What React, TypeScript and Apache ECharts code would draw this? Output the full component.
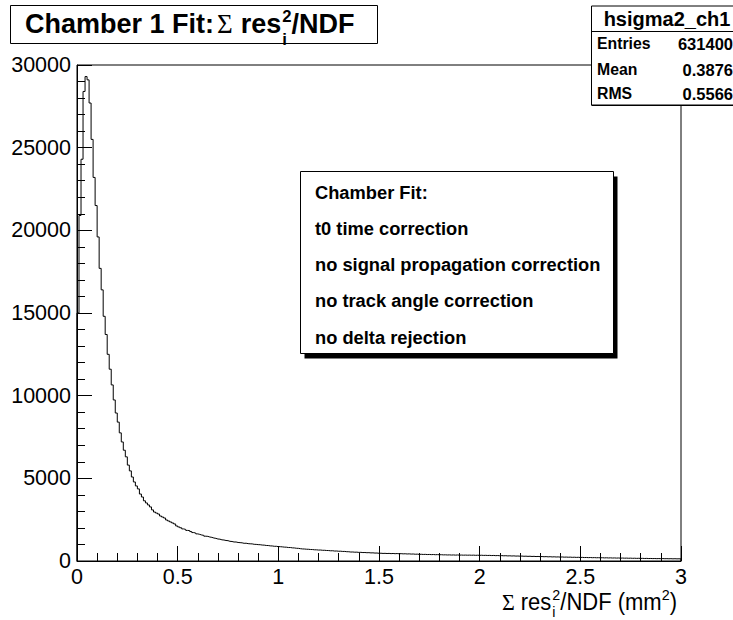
import React, { useEffect, useRef } from "react";
import * as echarts from "echarts";

// ---------- data ----------
const binWidth = 0.01; // 300 bins between 0 and 3
const xMin = 0;
const xMax = 3;
const yMax = 30000;

// bins 0..49
const peakCounts = [
  15000, 20900, 24300, 28400, 29300, 29100, 27700, 25500, 23200, 21500,
  19600, 17700, 16400, 14800, 13700, 12500, 11600, 10650, 9740, 8950,
  8400, 7750, 7200, 6700, 6300, 5800, 5450, 5080, 4780, 4540,
  4360, 4050, 3870, 3640, 3510, 3390, 3270, 3090, 2960, 2900,
  2840, 2720, 2660, 2600, 2480, 2420, 2360, 2300, 2240, 2120,
];
// bins 50..149
const midCounts = [
  2060, 2010, 1940, 1910, 1850, 1840, 1780, 1720, 1690, 1640,
  1610, 1570, 1550, 1500, 1490, 1450, 1430, 1390, 1370, 1330,
  1320, 1280, 1270, 1240, 1230, 1190, 1180, 1150, 1150, 1120,
  1110, 1100, 1070, 1075, 1050, 1040, 1035, 1010, 1005, 990,
  985, 965, 960, 940, 935, 915, 910, 890, 890, 870,
  865, 855, 840, 835, 815, 815, 795, 790, 770, 765,
  745, 730, 725, 712, 708, 695, 692, 678, 675, 662,
  664, 648, 648, 636, 632, 618, 620, 602, 604, 590,
  592, 578, 580, 562, 560, 542, 545, 532, 535, 520,
  524, 510, 514, 500, 505, 490, 494, 480, 482, 466,
];
// bins 150..299
const tailCounts = [
  470, 458, 464, 452, 460, 446, 455, 442, 450, 436,
  445, 432, 438, 425, 432, 418, 424, 410, 414, 400,
  406, 396, 402, 390, 396, 386, 392, 380, 386, 376,
  380, 370, 374, 364, 370, 360, 366, 356, 364, 354,
  360, 352, 358, 350, 356, 348, 354, 344, 350, 342,
  348, 338, 344, 334, 340, 328, 336, 324, 330, 318,
  326, 314, 320, 308, 314, 302, 310, 296, 302, 292,
  298, 286, 292, 280, 288, 274, 282, 268, 276, 264,
  270, 258, 266, 252, 260, 246, 254, 242, 248, 236,
  244, 232, 238, 228, 234, 222, 228, 218, 224, 212,
  220, 208, 214, 204, 210, 200, 206, 196, 200, 192,
  198, 188, 194, 184, 190, 180, 186, 176, 182, 172,
  178, 170, 174, 166, 172, 162, 168, 158, 164, 156,
  160, 152, 158, 148, 154, 146, 150, 142, 148, 140,
  146, 138, 142, 136, 140, 132, 138, 130, 134, 128,
];

const histName = "hsigma2_ch1";
const statLabels = ["Entries", "Mean", "RMS"];
const statValues = ["631400", "0.3876", "0.5566"];
const noteLines = [
  "Chamber Fit:",
  "t0 time correction",
  "no signal propagation correction",
  "no track angle correction",
  "no delta rejection",
];

// ---------- helpers ----------
const SANS = "'Liberation Sans', Arial, Helvetica, sans-serif";
const SERIF = "'Liberation Serif', 'DejaVu Serif', serif";

let measureCtx: CanvasRenderingContext2D | null = null;
function textWidth(text: string, size: number, weight: string, family: string) {
  if (!measureCtx) measureCtx = document.createElement("canvas").getContext("2d");
  if (!measureCtx) return text.length * size * 0.55;
  measureCtx.font = `${weight} ${size}px ${family}`;
  return measureCtx.measureText(text).width;
}

type Piece = {
  text: string;
  size: number;
  weight: string;
  family: string;
  dy: number; // vertical centre offset
  advance: boolean; // false = stacked with next piece
  gap?: number;
};

function layoutPieces(pieces: Piece[], startX: number, cy: number, z: number, sy = 1) {
  const out: any[] = [];
  let x = startX;
  let pendingW = 0;
  for (const p of pieces) {
    x += p.gap || 0;
    const w = textWidth(p.text, p.size, p.weight, p.family);
    out.push({
      type: "text",
      z,
      x,
      y: cy + p.dy,
      scaleY: sy,
      style: {
        text: p.text,
        x: 0,
        y: 0,
        fontSize: p.size,
        fontWeight: p.weight,
        fontFamily: p.family,
        fill: "#000",
        align: "left",
        verticalAlign: "middle",
      },
    });
    if (p.advance) {
      x += Math.max(w, pendingW);
      pendingW = 0;
    } else {
      pendingW = Math.max(pendingW, w);
    }
  }
  return { elements: out, width: x - startX };
}

export default function App() {
  const ref = useRef<HTMLDivElement>(null);

  useEffect(() => {
    if (!ref.current) return;
    const chart = echarts.init(ref.current, undefined, { renderer: "svg" });

    const counts = [...peakCounts, ...midCounts, ...tailCounts];
    const data: number[][] = [[xMin, 0]];
    counts.forEach((c, i) => data.push([+(i * binWidth).toFixed(4), c]));
    data.push([xMax, counts[counts.length - 1]]);
    data.push([xMax, 0]);

    // title pieces
    const T = 27;
    const titlePieces: Piece[] = [
      { text: "Chamber 1 Fit:", size: T, weight: "bold", family: SANS, dy: 0, advance: true },
      { text: "\u03A3", size: T, weight: "normal", family: SERIF, dy: 0, advance: true, gap: 3 },
      { text: "res", size: T, weight: "bold", family: SANS, dy: 0, advance: true, gap: 8 },
      { text: "i", size: T * 0.62, weight: "bold", family: SANS, dy: 15, advance: false, gap: 1 },
      { text: "2", size: T * 0.62, weight: "bold", family: SANS, dy: -8, advance: true },
      { text: "/NDF", size: T, weight: "bold", family: SANS, dy: 0, advance: true },
    ];
    const title = layoutPieces(titlePieces, 25, 24, 30, 1);

    // x axis title pieces (right aligned)
    const A = 22;
    const axisPieces: Piece[] = [
      { text: "\u03A3", size: A, weight: "normal", family: SERIF, dy: 0, advance: true },
      { text: "res", size: A, weight: "normal", family: SANS, dy: 0, advance: true, gap: 6 },
      { text: "i", size: A * 0.65, weight: "normal", family: SANS, dy: 10, advance: false, gap: 1 },
      { text: "2", size: A * 0.65, weight: "normal", family: SANS, dy: -7, advance: true },
      { text: "/NDF (mm", size: A, weight: "normal", family: SANS, dy: 0, advance: true },
      { text: "2", size: A * 0.65, weight: "normal", family: SANS, dy: -7, advance: true },
      { text: ")", size: A, weight: "normal", family: SANS, dy: 0, advance: true },
    ];
    const axisMeasure = layoutPieces(axisPieces, 0, 0, 30);
    const axisTitle = layoutPieces(axisPieces, 677 - axisMeasure.width, 602, 30, 1.06);

    // stats box
    const sx = 591.5, sy = 6, sw = 150, sh = 99;
    const statEls: any[] = [
      { type: "rect", z: 40, shape: { x: sx, y: sy + 1, width: sw, height: sh }, style: { fill: "#000", stroke: "none" } },
      { type: "rect", z: 41, shape: { x: sx, y: sy, width: sw, height: sh }, style: { fill: "#fff", stroke: "#000", lineWidth: 1 } },
      { type: "line", z: 42, shape: { x1: sx, y1: 31.5, x2: sx + sw, y2: 31.5 }, style: { stroke: "#000", lineWidth: 1 } },
      {
        type: "text", z: 42,
        style: { text: histName, x: 667, y: 18.5, fontSize: 20, fontWeight: "bold", fontFamily: SANS, fill: "#000", align: "center", verticalAlign: "middle" },
      },
    ];
    const statYs = [43.5, 69.5, 93.5];
    statLabels.forEach((l, i) => {
      statEls.push({
        type: "text", z: 42,
        style: { text: l, x: 597, y: statYs[i], fontSize: 15.8, fontWeight: "bold", fontFamily: SANS, fill: "#000", align: "left", verticalAlign: "middle" },
      });
      statEls.push({
        type: "text", z: 42,
        style: { text: statValues[i], x: 733, y: statYs[i], fontSize: 16.5, fontWeight: "bold", fontFamily: SANS, fill: "#000", align: "right", verticalAlign: "middle" },
      });
    });

    // note box
    const nx = 300.5, ny = 171.5, nw = 313, nh = 182;
    const noteEls: any[] = [
      { type: "rect", z: 40, shape: { x: nx + 4, y: ny + 5, width: nw, height: nh }, style: { fill: "#000", stroke: "none" } },
      { type: "rect", z: 41, shape: { x: nx, y: ny, width: nw, height: nh }, style: { fill: "#fff", stroke: "#000", lineWidth: 1 } },
    ];
    noteLines.forEach((t, i) => {
      noteEls.push({
        type: "text", z: 42,
        style: { text: t, x: 315, y: 192 + i * 36.3, fontSize: 18.3, fontWeight: "bold", fontFamily: SANS, fill: "#000", align: "left", verticalAlign: "middle" },
      });
    });

    const titleBox = {
      type: "rect", z: 29,
      shape: { x: 10.5, y: 5.5, width: 367, height: 38 },
      style: { fill: "#fff", stroke: "#000", lineWidth: 1 },
    };

    const axisCommon = {
      axisLine: { show: true, onZero: false, lineStyle: { color: "#000", width: 1 } },
      axisTick: { show: true, inside: true, length: 15, lineStyle: { color: "#000", width: 1 } },
      minorTick: { show: true, splitNumber: 5, length: 8, lineStyle: { color: "#000", width: 1 } },
      splitLine: { show: false },
      minorSplitLine: { show: false },
    };

    chart.setOption({
      animation: false,
      backgroundColor: "#fff",
      grid: {
        left: 77, top: 65, width: 604, height: 496,
        show: true, borderColor: "#000", borderWidth: 1, backgroundColor: "transparent",
        containLabel: false,
      },
      xAxis: {
        type: "value", min: xMin, max: xMax, interval: 0.5,
        ...axisCommon,
        axisLabel: { color: "#000", fontSize: 21.5, fontFamily: SANS, margin: 5, formatter: (v: number) => String(v) },
      },
      yAxis: {
        type: "value", min: 0, max: yMax, interval: 5000,
        ...axisCommon,
        axisLabel: { color: "#000", fontSize: 21.5, fontFamily: SANS, margin: 6, formatter: (v: number) => String(v) },
      },
      series: [
        {
          type: "line",
          step: "end",
          data,
          symbol: "none",
          showSymbol: false,
          clip: true,
          lineStyle: { color: "#000", width: 1 },
          z: 5,
        },
      ],
      graphic: [titleBox, ...title.elements, ...axisTitle.elements, ...noteEls, ...statEls],
    });

    return () => chart.dispose();
  }, []);

  return (
    <div
      ref={ref}
      style={{ position: "fixed", left: 0, top: 0, width: 733, height: 620, background: "#fff" }}
    />
  );
}
